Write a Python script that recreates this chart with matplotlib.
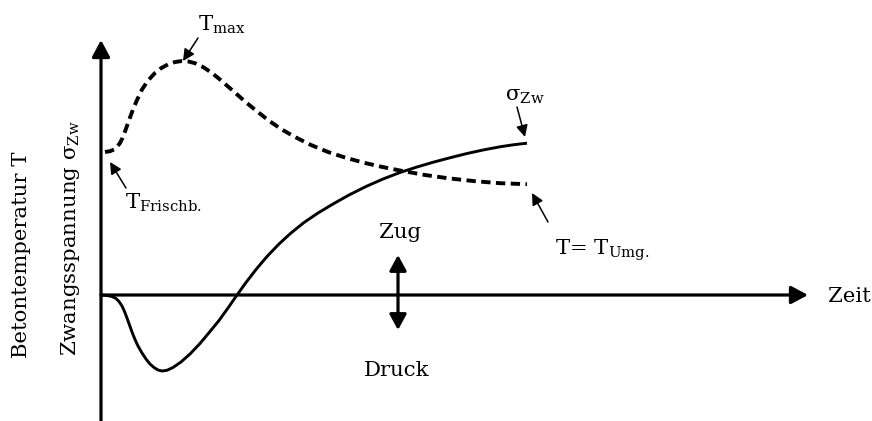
#!/usr/bin/env python3

# schematic: concrete temperature and restraint stress over time
# units are arbitrary (roughly screen pixels from the origin)

import matplotlib.pyplot as plt

plt.rcParams['font.family'] = ['DejaVu Serif']
plt.rcParams['mathtext.fontset'] = 'dejavuserif'

# Betontemperatur T (dashed)
t_temp = [4, 9, 13, 16, 19, 21.5, 24, 26.5, 29, 32, 36, 41, 47, 54, 60, 67,
          74, 81, 87, 94, 102, 111, 119, 127, 135, 144, 155, 167, 180, 194,
          210, 227, 244, 262, 280, 299, 324, 349, 374, 399, 426]
temp = [143, 143.8, 145.5, 148, 152, 157, 163.5, 170.5, 177.5, 185.5, 195,
        205.5, 214.5, 222, 226.8, 230.6, 233, 234, 233.6, 231.8, 228, 222,
        215.5, 208.5, 201.5, 193.5, 184.5, 175, 166, 158, 150, 143, 137.5,
        132.5, 128.3, 124.5, 120, 116.5, 113.8, 111.8, 110.8]

# Zwangsspannung sigma_Zw (solid)
t_sig = [0, 6, 11, 15, 18, 21, 23.5, 26, 28.5, 31, 34, 37, 41, 45, 49, 53,
         57, 61, 66, 72, 80, 89, 99, 109, 118, 127, 136, 145, 155, 166, 178,
         190, 203, 217, 232, 248, 265, 282, 299, 316, 333, 350, 366, 383, 399,
         413, 426]
sig = [0, -0.5, -1.5, -3.5, -6.5, -11, -16.5, -23, -30, -37, -44.5, -51, -58,
       -64, -69, -72.5, -75, -76, -75.3, -72.5, -67, -59, -48.5, -36.5, -25.5,
       -13, 0, 12.5, 25.5, 38.5, 51, 62, 72.5, 82, 91, 100, 108.5, 116, 122.5,
       128, 133, 137.5, 141.5, 145.2, 148.2, 150.3, 151.8]

fs = 15.3

fig = plt.figure(figsize=(8.72, 4.21), dpi=100)
ax = fig.add_axes([0, 0, 1, 1])
ax.set_xlim(-101, 771)
ax.set_ylim(-126, 295)
ax.axis('off')

# axes with arrow heads
axis_arrow = dict(arrowstyle='-|>,head_length=0.6,head_width=0.32',
                  mutation_scale=17, lw=2.3, color='black',
                  shrinkA=0, shrinkB=0)
ax.annotate('', xy=(0, 255), xytext=(0, -126), arrowprops=axis_arrow)
ax.annotate('', xy=(707, 0), xytext=(0, 0), arrowprops=axis_arrow)

ax.plot(t_sig, sig, color='black', lw=2.1, solid_capstyle='butt',
        solid_joinstyle='round')
ax.plot(t_temp, temp, color='black', lw=2.8, dashes=(2.4, 1.4))

# labels
ax.text(-79, 40, 'Betontemperatur T', rotation=90, ha='center', va='center',
        fontsize=fs)
ax.text(-31, 57, r'Zwangsspannung σ$_{\mathrm{Zw}}$', rotation=90,
        ha='center', va='center', fontsize=fs)
ax.text(727, -2, 'Zeit', ha='left', va='center', fontsize=fs)
ax.text(299, 62, 'Zug', ha='center', va='center', fontsize=fs)
ax.text(296, -76, 'Druck', ha='center', va='center', fontsize=fs)

# Zug / Druck double arrow
ax.annotate('', xy=(297, 40), xytext=(297, -35),
            arrowprops=dict(arrowstyle='<|-|>,head_length=0.55,head_width=0.3',
                            mutation_scale=17, lw=2.3, color='black',
                            shrinkA=0, shrinkB=0))

small = dict(arrowstyle='-|>,head_length=0.5,head_width=0.25',
             mutation_scale=14, lw=1.1, color='black', shrinkA=0, shrinkB=0)

ax.text(97, 270, r'T$_{\mathrm{max}}$', ha='left', va='center', fontsize=fs)
ax.annotate('', xy=(82, 234), xytext=(97, 257), arrowprops=small)

ax.text(24, 92, r'T$_{\mathrm{Frischb.}}$', ha='left', va='center', fontsize=fs)
ax.annotate('', xy=(9, 133), xytext=(25, 107), arrowprops=small)

ax.text(404, 198, r'σ$_{\mathrm{Zw}}$', ha='left', va='center', fontsize=fs)
ax.annotate('', xy=(424, 158), xytext=(416, 188), arrowprops=small)

ax.text(454, 45, r'T= T$_{\mathrm{Umg.}}$', ha='left', va='center', fontsize=fs)
ax.annotate('', xy=(431, 102), xytext=(447, 73), arrowprops=small)

fig.savefig('out.png', dpi=100)
